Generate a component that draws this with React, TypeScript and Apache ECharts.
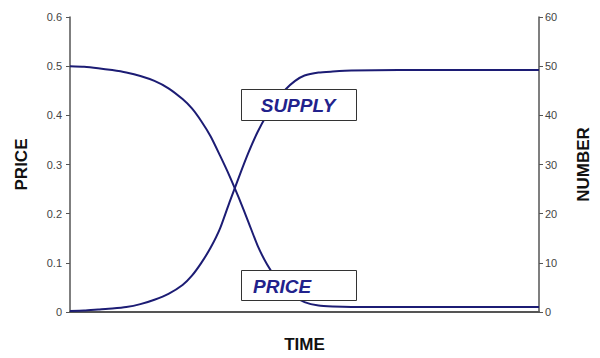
import React, { useEffect, useRef } from "react";
import * as echarts from "echarts";

const time = [0, 3, 6, 9, 12, 15, 18, 21, 24, 26, 28, 30, 32, 34, 36, 38, 40, 42, 44, 46, 48, 50, 53, 56, 60, 70, 85, 100];
const price = [0.5, 0.499, 0.496, 0.492, 0.487, 0.48, 0.47, 0.455, 0.433, 0.414, 0.388, 0.357, 0.318, 0.277, 0.232, 0.184, 0.135, 0.097, 0.068, 0.047, 0.031, 0.02, 0.013, 0.011, 0.01, 0.01, 0.01, 0.01];
const supply = [0.2, 0.3, 0.5, 0.7, 1.0, 1.6, 2.5, 3.7, 5.5, 7.4, 10.0, 13.1, 17.0, 22.3, 27.4, 32.3, 36.6, 40.1, 43.0, 45.3, 47.0, 48.1, 48.7, 48.9, 49.1, 49.2, 49.2, 49.2];
const priceTicks = [0, 0.1, 0.2, 0.3, 0.4, 0.5, 0.6];
const numberTicks = [0, 10, 20, 30, 40, 50, 60];

const LINE = "#1c1c74";
const TEXT_BLUE = "#22228c";
const FONT = "Arial, 'Liberation Sans', sans-serif";

export default function App() {
  const ref = useRef<HTMLDivElement>(null);
  useEffect(() => {
    if (!ref.current) return;
    const chart = echarts.init(ref.current, undefined, { renderer: "svg" });
    const axisCommon = {
      type: "value" as const,
      nameLocation: "middle" as const,
      nameRotate: 90,
      nameTextStyle: { fontFamily: FONT, fontWeight: "bold" as const, fontSize: 17, color: "#111" },
      axisLine: { show: true, lineStyle: { color: "#555", width: 1.5 } },
      axisTick: { show: true, inside: false, length: 4, lineStyle: { color: "#555" } },
      splitLine: { show: false },
    };
    chart.setOption({
      animation: false,
      backgroundColor: "#fff",
      grid: { left: 70, right: 52, top: 17, bottom: 37, containLabel: false },
      xAxis: {
        type: "value",
        min: 0,
        max: 100,
        name: "TIME",
        nameLocation: "middle",
        nameGap: 24,
        nameTextStyle: { fontFamily: FONT, fontWeight: "bold", fontSize: 17, color: "#111" },
        axisLine: { show: true, lineStyle: { color: "#555", width: 2 } },
        axisTick: { show: false },
        axisLabel: { show: false },
        splitLine: { show: false },
      },
      yAxis: [
        {
          ...axisCommon,
          position: "left",
          min: priceTicks[0],
          max: priceTicks[priceTicks.length - 1],
          interval: 0.1,
          name: "PRICE",
          nameGap: 40,
          axisLabel: { fontFamily: FONT, fontSize: 11, color: "#444", margin: 8 },
        },
        {
          ...axisCommon,
          position: "right",
          min: numberTicks[0],
          max: numberTicks[numberTicks.length - 1],
          interval: 10,
          name: "NUMBER",
          nameGap: 36,
          axisLabel: { fontFamily: FONT, fontSize: 11, color: "#444", margin: 6 },
        },
      ],
      series: [
        {
          type: "line",
          name: "PRICE",
          yAxisIndex: 0,
          data: time.map((t, i) => [t, price[i]]),
          showSymbol: false,
          smooth: 0.2,
          lineStyle: { color: LINE, width: 2 },
          z: 2,
        },
        {
          type: "line",
          name: "SUPPLY",
          yAxisIndex: 1,
          data: time.map((t, i) => [t, supply[i]]),
          showSymbol: false,
          smooth: 0.2,
          lineStyle: { color: LINE, width: 2 },
          z: 2,
        },
      ],
      graphic: [
        {
          type: "rect",
          z: 100,
          shape: { x: 241.5, y: 89.5, width: 115, height: 31 },
          style: { fill: "#fff", stroke: "#333", lineWidth: 1 },
        },
        {
          type: "text",
          z: 101,
          x: 298,
          y: 105,
          style: { text: "SUPPLY", fill: TEXT_BLUE, font: `italic bold 19px ${FONT}`, align: "center", verticalAlign: "middle" },
        },
        {
          type: "rect",
          z: 100,
          shape: { x: 241.5, y: 270.5, width: 115, height: 30 },
          style: { fill: "#fff", stroke: "#333", lineWidth: 1 },
        },
        {
          type: "text",
          z: 101,
          x: 253,
          y: 286,
          style: { text: "PRICE", fill: TEXT_BLUE, font: `italic bold 19px ${FONT}`, align: "left", verticalAlign: "middle" },
        },
      ],
    });
    return () => chart.dispose();
  }, []);
  return <div ref={ref} style={{ width: 600, height: 358, position: "absolute", left: 0, top: 0 }} />;
}
